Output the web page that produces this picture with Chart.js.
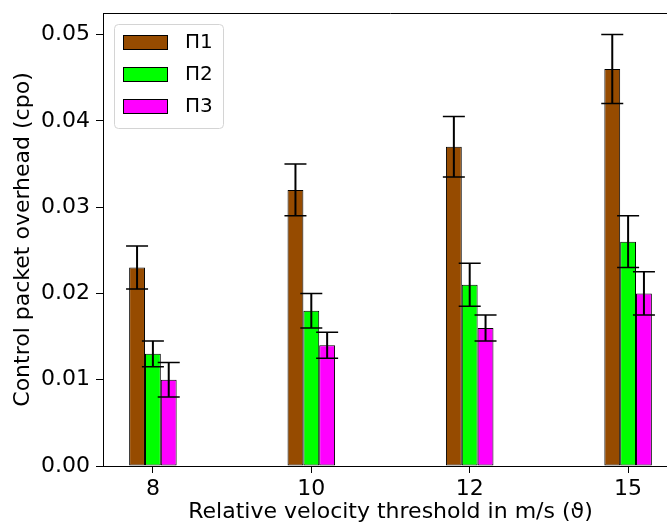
<!DOCTYPE html>
<html>
<head>
<meta charset="utf-8">
<script src="https://cdn.jsdelivr.net/npm/chart.js@4.4.1/dist/chart.umd.min.js"></script>
<style>
  html, body { margin: 0; padding: 0; background: #ffffff; overflow: hidden; }
  #wrap { width: 667px; height: 526px; overflow: hidden; position: relative; }
  #box { position: absolute; left: 0; top: 0; width: 681px; height: 526px; }
</style>
</head>
<body>
<div id="wrap"><div id="box"><canvas id="c"></canvas></div></div>
<script>
// Relative velocity thresholds (m/s) on the x axis
const categories = ['8', '10', '12', '15'];
const seriesNames = ['Π1', 'Π2', 'Π3'];

// Control packet overhead per scheme, with error half-widths
const pi1 = [0.023, 0.032, 0.037, 0.046];
const pi1Err = [0.0025, 0.003, 0.0035, 0.004];
const pi2 = [0.013, 0.018, 0.021, 0.026];
const pi2Err = [0.0015, 0.002, 0.0025, 0.003];
const pi3 = [0.010, 0.014, 0.016, 0.020];
const pi3Err = [0.002, 0.0015, 0.0015, 0.0025];

const yTicks = [0, 0.01, 0.02, 0.03, 0.04, 0.05];

const colors = ['#964B00', '#00FF00', '#FF00FF'];
const FONT = "'DejaVu Sans', sans-serif";
const FS = 22;

function makeSet(label, values, errs, color) {
  return {
    label: label,
    data: values.map((v, i) => ({ x: i, y: v })),
    errors: errs,
    backgroundColor: color,
    borderColor: '#000000',
    borderWidth: 1,
    borderSkipped: false,
    categoryPercentage: 0.3,
    barPercentage: 1.0
  };
}

// Error bars with caps, drawn on top of each bar
const errorBars = {
  id: 'errorBars',
  afterDatasetsDraw(chart) {
    const ctx = chart.ctx;
    const ys = chart.scales.y;
    ctx.save();
    ctx.strokeStyle = '#000000';
    chart.data.datasets.forEach((ds, di) => {
      const meta = chart.getDatasetMeta(di);
      meta.data.forEach((bar, i) => {
        const v = ds.data[i].y, e = ds.errors[i];
        const yt = ys.getPixelForValue(v + e);
        const yb = ys.getPixelForValue(v - e);
        const x = bar.x;
        ctx.lineWidth = 2;
        ctx.beginPath();
        ctx.moveTo(x, yt); ctx.lineTo(x, yb);
        ctx.stroke();
        ctx.lineWidth = 1.5;
        ctx.beginPath();
        ctx.moveTo(x - 11, yt); ctx.lineTo(x + 11, yt);
        ctx.moveTo(x - 11, yb); ctx.lineTo(x + 11, yb);
        ctx.stroke();
      });
    });
    ctx.restore();
  }
};

// Top and right edges of the axes box
const frame = {
  id: 'frame',
  afterDatasetsDraw(chart) {
    const { left, right, top, bottom } = chart.chartArea;
    const ctx = chart.ctx;
    ctx.save();
    ctx.strokeStyle = '#000000';
    ctx.lineWidth = 1;
    ctx.beginPath();
    ctx.moveTo(left, top + 0.5); ctx.lineTo(right, top + 0.5);
    ctx.moveTo(right - 0.5, top); ctx.lineTo(right - 0.5, bottom);
    ctx.stroke();
    ctx.restore();
  }
};

// Boxed legend in the upper-left corner of the plot
const boxLegend = {
  id: 'boxLegend',
  afterDraw(chart) {
    const ctx = chart.ctx;
    const ca = chart.chartArea;
    const bx = ca.left + 11, by = ca.top + 11, bw = 109, bh = 104, r = 4;
    ctx.save();
    ctx.beginPath();
    ctx.roundRect(bx + 0.5, by + 0.5, bw, bh, r);
    ctx.fillStyle = 'rgba(255,255,255,0.8)';
    ctx.fill();
    ctx.strokeStyle = '#d4d4d4';
    ctx.lineWidth = 1;
    ctx.stroke();
    ctx.font = '20px ' + FONT;
    ctx.textBaseline = 'middle';
    ctx.textAlign = 'left';
    chart.data.datasets.forEach((ds, i) => {
      const cy = by + 18 + i * 32;
      ctx.fillStyle = ds.backgroundColor;
      ctx.fillRect(bx + 9.5, cy - 7, 44, 14);
      ctx.strokeStyle = '#000000';
      ctx.strokeRect(bx + 9.5, cy - 7 + 0.5, 44, 14);
      ctx.fillStyle = '#000000';
      ctx.fillText(ds.label, bx + 71, cy + 1);
    });
    ctx.restore();
  }
};

new Chart(document.getElementById('c'), {
  type: 'bar',
  data: {
    datasets: [
      makeSet(seriesNames[0], pi1, pi1Err, colors[0]),
      makeSet(seriesNames[1], pi2, pi2Err, colors[1]),
      makeSet(seriesNames[2], pi3, pi3Err, colors[2])
    ]
  },
  options: {
    responsive: true,
    maintainAspectRatio: false,
    animation: false,
    layout: { padding: { top: 13, right: 3, left: 0, bottom: 0 } },
    plugins: { legend: { display: false }, tooltip: { enabled: false } },
    scales: {
      x: {
        type: 'linear',
        offset: false,
        min: -0.315,
        max: 3.315,
        afterBuildTicks: (s) => { s.ticks = categories.map((c, i) => ({ value: i })); },
        afterFit: (s) => { s.height = 60; s.paddingLeft = 0; s.paddingRight = 0; },
        grid: { display: true, drawOnChartArea: false, drawTicks: true, tickLength: 7, tickColor: '#000000', offset: false },
        border: { display: true, color: '#000000', width: 1 },
        ticks: {
          color: '#000000', padding: 3, maxRotation: 0, autoSkip: false,
          font: { family: FONT, size: FS },
          callback: (v, i) => categories[i]
        },
        title: {
          display: true, text: 'Relative velocity threshold in m/s (ϑ)', color: '#000000',
          font: { family: FONT, size: FS }, padding: { top: 0, bottom: 1 }
        }
      },
      y: {
        min: 0,
        max: 0.0525,
        afterBuildTicks: (s) => { s.ticks = yTicks.map(v => ({ value: v })); },
        afterFit: (s) => { s.width = 103; s.paddingTop = 0; s.paddingBottom = 0; },
        grid: { display: true, drawOnChartArea: false, drawTicks: true, tickLength: 7, tickColor: '#000000' },
        border: { display: true, color: '#000000', width: 1 },
        ticks: {
          color: '#000000', padding: 6,
          font: { family: FONT, size: FS },
          callback: (v) => Number(v).toFixed(2)
        },
        title: {
          display: true, text: 'Control packet overhead (cpo)', color: '#000000',
          font: { family: FONT, size: FS }, padding: { top: 10, bottom: 0 }
        }
      }
    }
  },
  plugins: [errorBars, frame, boxLegend]
});
</script>
</body>
</html>
